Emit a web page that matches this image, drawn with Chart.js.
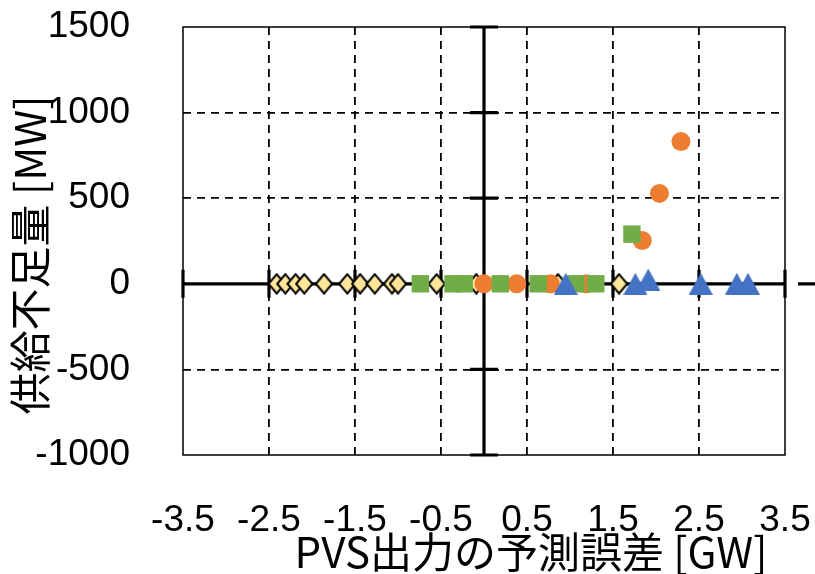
<!DOCTYPE html>
<html>
<head>
<meta charset="utf-8">
<script src="https://cdn.jsdelivr.net/npm/chart.js@4/dist/chart.umd.min.js"></script>
<style>
  html, body { margin: 0; padding: 0; background: #fff; }
  #wrap { width: 815px; height: 574px; }
</style>
</head>
<body>
<div id="wrap"><canvas id="chart" width="815" height="574"></canvas></div>
<script>
// Axis ticks and labels
const xTicks = [-3.5, -2.5, -1.5, -0.5, 0.5, 1.5, 2.5, 3.5];
const xTickLabels = ['-3.5', '-2.5', '-1.5', '-0.5', '0.5', '1.5', '2.5', '3.5'];
const yTicks = [-1000, -500, 0, 500, 1000, 1500];
const yTickLabels = ['-1000', '-500', '0', '500', '1000', '1500'];
const xTitle = 'PVS出力の予測誤差 [GW]';
const yTitle = '供給不足量 [MW]';

// Series A: yellow diamonds (PV forecast error [GW], shortfall [MW])
const diamondX = [-2.41, -2.31, -2.19, -2.09, -1.86, -1.59, -1.44, -1.27, -1.07, -1.00, -0.55, -0.09, 0.86, 1.57];
const diamondY = [0, 0, 0, 0, 0, 0, 0, 0, 0, 0, 0, 0, 0, 0];

// Series B: orange circles
const circleX = [0.00, 0.38, 0.77, 1.19, 1.84, 2.04, 2.29];
const circleY = [0, 0, 0, 0, 253, 528, 831];

// Series C: green squares
const squareX = [-0.74, -0.36, -0.23, 0.19, 0.63, 1.07, 1.30, 1.72];
const squareY = [0, 0, 0, 0, 0, 0, 0, 290];

// Series D: blue triangles
const triangleX = [0.95, 1.76, 1.91, 2.52, 2.94, 3.07];
const triangleY = [0, 0, 25, 0, 0, 0];

const toPoints = (xs, ys) => xs.map((x, i) => ({ x, y: ys[i] }));

// Marker images, centred on their bounding box
function triangleMarker(w, h, fill) {
  const c = document.createElement('canvas');
  c.width = w; c.height = h;
  const g = c.getContext('2d');
  g.fillStyle = fill;
  g.beginPath();
  g.moveTo(w / 2, 0);
  g.lineTo(w, h);
  g.lineTo(0, h);
  g.closePath();
  g.fill();
  return c;
}
function diamondMarker(w, h, fill, stroke, lw) {
  const c = document.createElement('canvas');
  c.width = w; c.height = h;
  const g = c.getContext('2d');
  const p = lw / 2 + 0.3;
  g.beginPath();
  g.moveTo(w / 2, p);
  g.lineTo(w - p, h / 2);
  g.lineTo(w / 2, h - p);
  g.lineTo(p, h / 2);
  g.closePath();
  g.fillStyle = fill;
  g.fill();
  g.lineWidth = lw;
  g.lineJoin = 'miter';
  g.strokeStyle = stroke;
  g.stroke();
  return c;
}

const triImg = triangleMarker(24, 22, '#4472C4');
const diaImg = diamondMarker(19, 22, '#FFE699', '#000000', 2);

// Frame, zero axes with cross ticks, and axis titles
const framePlugin = {
  id: 'frame',
  beforeDatasetsDraw(chart) {
    const { ctx, chartArea: a, scales: { x, y } } = chart;
    const x0 = x.getPixelForValue(0);
    const y0 = y.getPixelForValue(0);
    ctx.save();
    ctx.strokeStyle = '#000';
    ctx.lineWidth = 1.5;
    ctx.strokeRect(a.left, a.top, a.right - a.left, a.bottom - a.top);

    ctx.lineWidth = 3.2;
    ctx.beginPath();
    ctx.moveTo(a.left, y0); ctx.lineTo(a.right, y0);
    ctx.moveTo(x0, a.top); ctx.lineTo(x0, a.bottom);
    xTicks.forEach(v => {
      const p = x.getPixelForValue(v);
      ctx.moveTo(p, y0 - 14); ctx.lineTo(p, y0 + 14);
    });
    yTicks.forEach(v => {
      const p = y.getPixelForValue(v);
      ctx.moveTo(x0 - 14, p); ctx.lineTo(x0 + 14, p);
    });
    ctx.moveTo(a.right + 13, y0); ctx.lineTo(chart.width, y0);
    ctx.stroke();
    ctx.restore();
  },
  afterDraw(chart) {
    const { ctx } = chart;
    ctx.save();
    ctx.fillStyle = '#000';
    ctx.textBaseline = 'middle';
    ctx.textAlign = 'center';
    ctx.font = '42px "Noto Sans CJK JP", "Liberation Sans", sans-serif';
    ctx.fillText(xTitle, 531, 552);
    ctx.translate(30, 255);
    ctx.rotate(-Math.PI / 2);
    ctx.fillText(yTitle, 0, 0);
    ctx.restore();
  }
};

const tickFont = { family: '"Liberation Sans", "DejaVu Sans", sans-serif', size: 37 };

// Fixed scale sizes so the plot area sits where the layout needs it
const fixBox = (s, prop, size) => {
  s[prop] = size;
  s.paddingTop = 0; s.paddingBottom = 0; s.paddingLeft = 0; s.paddingRight = 0;
};

new Chart(document.getElementById('chart'), {
  type: 'scatter',
  data: {
    datasets: [
      {
        label: 'A',
        data: toPoints(diamondX, diamondY),
        pointStyle: diaImg,
        order: 4
      },
      {
        label: 'B',
        data: toPoints(circleX, circleY),
        pointStyle: 'circle',
        pointRadius: 9.5,
        backgroundColor: '#ED7D31',
        borderWidth: 0,
        order: 3
      },
      {
        label: 'C',
        data: toPoints(squareX, squareY),
        pointStyle: 'rect',
        pointRadius: 12.3,
        backgroundColor: '#70AD47',
        borderWidth: 0,
        order: 2
      },
      {
        label: 'D',
        data: toPoints(triangleX, triangleY),
        pointStyle: triImg,
        order: 1
      }
    ]
  },
  options: {
    responsive: false,
    animation: false,
    events: [],
    layout: { padding: { top: 27, right: 30, left: 0, bottom: 0 } },
    plugins: {
      legend: { display: false },
      tooltip: { enabled: false }
    },
    scales: {
      x: {
        type: 'linear',
        position: 'bottom',
        min: -3.5,
        max: 3.5,
        afterBuildTicks: s => { s.ticks = xTicks.map(v => ({ value: v })); },
        afterFit: s => fixBox(s, 'height', 119),
        ticks: {
          callback: (v, i) => xTickLabels[i],
          font: tickFont,
          color: '#000',
          padding: 44,
          maxRotation: 0,
          autoSkip: false
        },
        grid: {
          drawTicks: false,
          lineWidth: 1.8,
          color: c => (c.tick && Math.abs(c.tick.value) < 3.4) ? '#000' : 'rgba(0,0,0,0)'
        },
        border: { display: false, dash: [8, 6] }
      },
      y: {
        type: 'linear',
        min: -1000,
        max: 1500,
        afterBuildTicks: s => { s.ticks = yTicks.map(v => ({ value: v })); },
        afterFit: s => fixBox(s, 'width', 183),
        ticks: {
          callback: (v, i) => yTickLabels[i],
          font: tickFont,
          color: '#000',
          padding: 53,
          autoSkip: false
        },
        grid: {
          drawTicks: false,
          lineWidth: 1.8,
          color: c => (c.tick && c.tick.value !== 0 && c.tick.value > -1000 && c.tick.value < 1500) ? '#000' : 'rgba(0,0,0,0)'
        },
        border: { display: false, dash: [8, 6] }
      }
    }
  },
  plugins: [framePlugin]
});
</script>
</body>
</html>
